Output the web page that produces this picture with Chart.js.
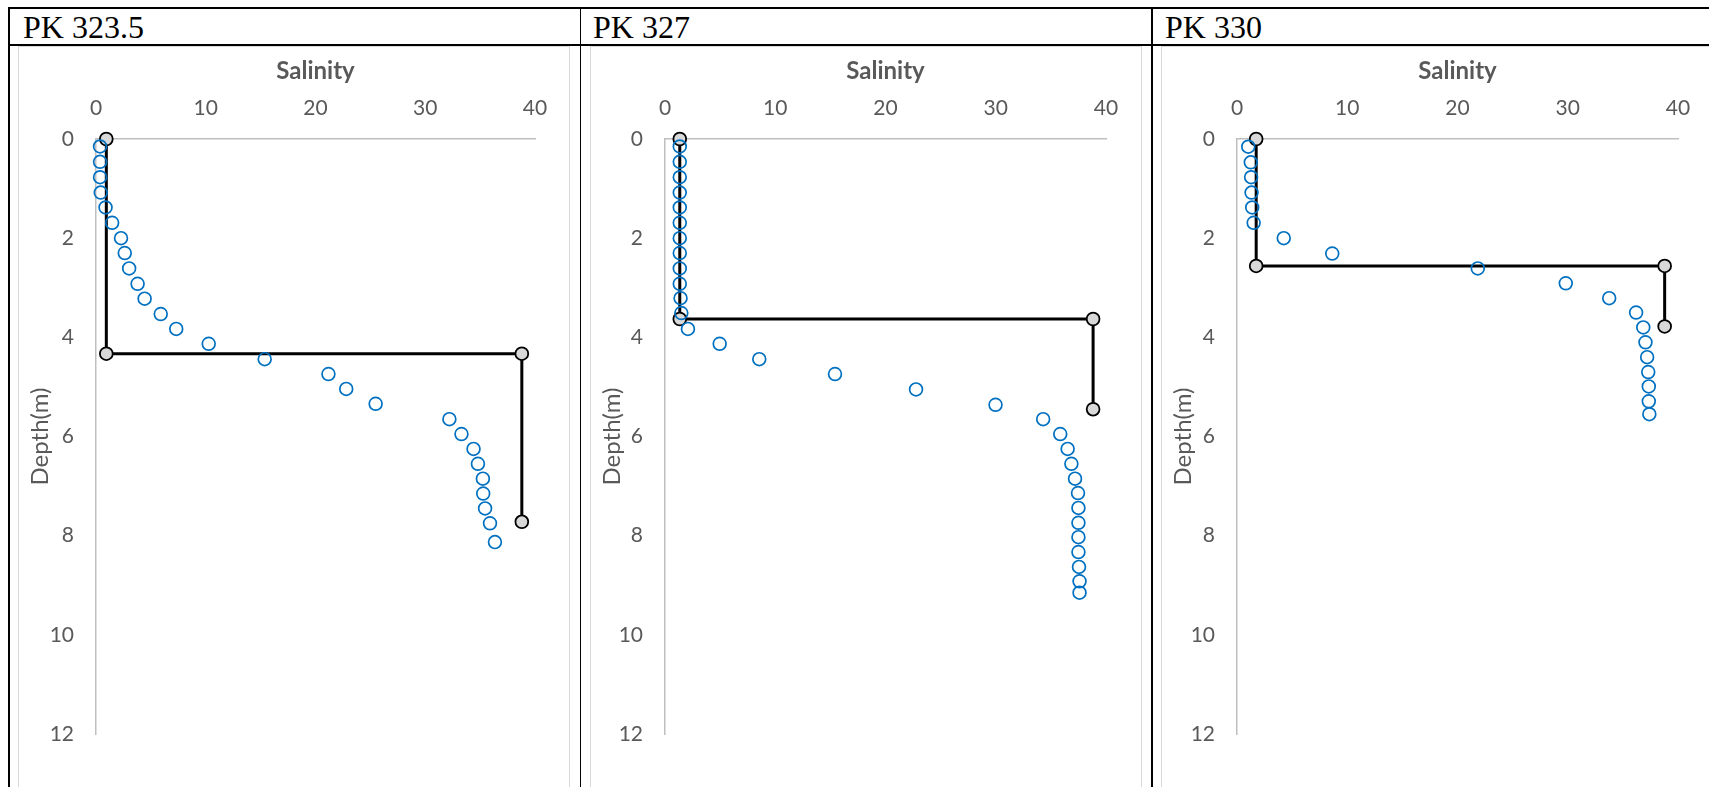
<!DOCTYPE html>
<html>
<head>
<meta charset="utf-8">
<script src="https://cdn.jsdelivr.net/npm/chart.js@4/dist/chart.umd.min.js"></script>
<style>
  html, body { margin: 0; padding: 0; background: #fff; width: 1709px; height: 787px; overflow: hidden; }
  .rule { position: absolute; background: #000; }
  .frame { position: absolute; border: 1px solid #D9D9D9; box-sizing: border-box; }
  .ttl { position: absolute; font-family: "Liberation Serif", serif; font-size: 32px; line-height: 32px; color: #000; white-space: nowrap; }
  canvas { position: absolute; }
</style>
</head>
<body>
<script>
// ---------- data ----------
const panelTitles = ['PK 323.5', 'PK 327', 'PK 330'];
const salinityTicks = [0, 10, 20, 30, 40];
const depthTicks = [0, 2, 4, 6, 8, 10, 12];

// PK 323.5 measured profile
const pk3235Depth = [0.15, 0.46, 0.77, 1.08, 1.38, 1.69, 2.0, 2.3, 2.61, 2.92, 3.22, 3.53, 3.83, 4.13, 4.44, 4.74, 5.04, 5.34, 5.65, 5.95, 6.25, 6.55, 6.85, 7.15, 7.45, 7.75, 8.13];
const pk3235Salinity = [0.37, 0.37, 0.37, 0.43, 0.87, 1.47, 2.28, 2.62, 3.02, 3.79, 4.43, 5.9, 7.31, 10.27, 15.37, 21.18, 22.8, 25.48, 32.2, 33.3, 34.4, 34.8, 35.25, 35.28, 35.45, 35.9, 36.35];
// PK 323.5 two-layer profile
const pk3235LayerDepth = [0, 4.33, 4.33, 7.72];
const pk3235LayerSalinity = [0.94, 0.94, 38.8, 38.8];

// PK 327 measured profile
const pk327Depth = [0.15, 0.46, 0.77, 1.08, 1.38, 1.69, 2.0, 2.3, 2.61, 2.92, 3.21, 3.51, 3.83, 4.13, 4.44, 4.74, 5.05, 5.36, 5.65, 5.95, 6.25, 6.55, 6.85, 7.14, 7.44, 7.74, 8.03, 8.33, 8.63, 8.92, 9.15];
const pk327Salinity = [1.34, 1.34, 1.34, 1.34, 1.34, 1.34, 1.34, 1.34, 1.34, 1.34, 1.41, 1.48, 2.08, 4.96, 8.55, 15.42, 22.77, 29.98, 34.3, 35.85, 36.52, 36.86, 37.19, 37.46, 37.5, 37.5, 37.5, 37.5, 37.55, 37.6, 37.6];
// PK 327 two-layer profile
const pk327LayerDepth = [0, 3.63, 3.63, 5.45];
const pk327LayerSalinity = [1.34, 1.34, 38.83, 38.83];

// PK 330 measured profile
const pk330Depth = [0.155, 0.47, 0.77, 1.08, 1.38, 1.69, 2.0, 2.31, 2.61, 2.91, 3.21, 3.5, 3.8, 4.1, 4.4, 4.7, 4.99, 5.29, 5.55];
const pk330Salinity = [1.02, 1.25, 1.28, 1.32, 1.38, 1.51, 4.24, 8.64, 21.84, 29.82, 33.76, 36.2, 36.85, 37.05, 37.2, 37.3, 37.35, 37.35, 37.4];
// PK 330 two-layer profile
const pk330LayerDepth = [0, 2.56, 2.56, 3.78];
const pk330LayerSalinity = [1.74, 1.74, 38.79, 38.79];

// ---------- layout (positions only) ----------
const layoutCfg = [
  { frameLeft: 18, axisW: 78, padR: 35, titleX: 23 },
  { frameLeft: 590, axisW: 75, padR: 36, titleX: 593 },
  { frameLeft: 1161, axisW: 76, padR: 35, titleX: 1165 }
];
const FRAME_TOP = 46, FRAME_W = 552, CANVAS_H = 741, XAXIS_H = 93, PAD_B = 53;

function addRule(x, y, w, h) {
  const d = document.createElement('div');
  d.className = 'rule';
  d.style.left = x + 'px'; d.style.top = y + 'px';
  d.style.width = w + 'px'; d.style.height = h + 'px';
  document.body.appendChild(d);
}
// table rules
addRule(8, 7, 1701, 2);      // top
addRule(8, 7, 2, 780);       // left
addRule(8, 44, 1701, 1.5);   // below titles
addRule(579.5, 7, 1.5, 780); // between 1 and 2
addRule(1151, 7, 1.5, 780);  // between 2 and 3

const panels = [
  { sal: pk3235Salinity, dep: pk3235Depth, lsal: pk3235LayerSalinity, ldep: pk3235LayerDepth },
  { sal: pk327Salinity, dep: pk327Depth, lsal: pk327LayerSalinity, ldep: pk327LayerDepth },
  { sal: pk330Salinity, dep: pk330Depth, lsal: pk330LayerSalinity, ldep: pk330LayerDepth }
];

const zip = (xs, ys) => xs.map((x, i) => ({ x: x, y: ys[i] }));
const AXIS_FONT = 'Lato';
const GREY_TXT = '#595959';

panels.forEach((p, i) => {
  const L = layoutCfg[i];
  const t = document.createElement('div');
  t.className = 'ttl';
  t.style.left = L.titleX + 'px';
  t.style.top = '11px';
  t.textContent = panelTitles[i];
  document.body.appendChild(t);

  const fr = document.createElement('div');
  fr.className = 'frame';
  fr.style.left = L.frameLeft + 'px';
  fr.style.top = FRAME_TOP + 'px';
  fr.style.width = FRAME_W + 'px';
  fr.style.height = '800px';
  document.body.appendChild(fr);

  const cv = document.createElement('canvas');
  cv.width = FRAME_W; cv.height = CANVAS_H;
  cv.style.left = L.frameLeft + 'px';
  cv.style.top = FRAME_TOP + 'px';
  cv.style.width = FRAME_W + 'px';
  cv.style.height = CANVAS_H + 'px';
  document.body.appendChild(cv);

  new Chart(cv, {
    type: 'scatter',
    data: {
      datasets: [
        {
          label: 'Measured',
          data: zip(p.sal, p.dep),
          showLine: false,
          pointStyle: 'circle',
          pointRadius: 6.4,
          pointBorderWidth: 1.7,
          pointBorderColor: '#0070C0',
          pointBackgroundColor: 'rgba(0,0,0,0)',
          clip: false
        },
        {
          label: 'Two-layer',
          data: zip(p.lsal, p.ldep),
          showLine: true,
          tension: 0,
          borderColor: '#000',
          borderWidth: 3,
          pointStyle: 'circle',
          pointRadius: 6.4,
          pointBorderWidth: 1.8,
          pointBorderColor: '#000',
          pointBackgroundColor: '#D9D9D9',
          clip: false
        }
      ]
    },
    options: {
      responsive: false,
      animation: false,
      devicePixelRatio: 1,
      events: [],
      layout: { padding: { left: 0, top: 0, right: L.padR, bottom: PAD_B } },
      plugins: { legend: { display: false }, tooltip: { enabled: false } },
      scales: {
        x: {
          type: 'linear',
          position: 'top',
          min: salinityTicks[0],
          max: salinityTicks[salinityTicks.length - 1],
          afterBuildTicks: s => { s.ticks = salinityTicks.map(v => ({ value: v })); },
          ticks: { padding: 18, color: GREY_TXT, font: { family: AXIS_FONT, size: 21 }, maxRotation: 0 },
          grid: { display: false, drawTicks: false, tickLength: 0 },
          border: { display: true, color: '#BFBFBF', width: 1.5 },
          title: { display: true, text: 'Salinity', color: GREY_TXT, font: { family: AXIS_FONT, size: 24, weight: 'bold' }, padding: { top: 11, bottom: 0 } },
          afterFit: s => { s.height = XAXIS_H; s.paddingLeft = 0; s.paddingRight = 0; }
        },
        y: {
          type: 'linear',
          position: 'left',
          reverse: true,
          min: depthTicks[0],
          max: depthTicks[depthTicks.length - 1],
          afterBuildTicks: s => { s.ticks = depthTicks.map(v => ({ value: v })); },
          ticks: { padding: 22, color: GREY_TXT, font: { family: AXIS_FONT, size: 21 } },
          grid: { display: false, drawTicks: false, tickLength: 0 },
          border: { display: true, color: '#BFBFBF', width: 1.5 },
          title: { display: true, text: 'Depth(m)', color: GREY_TXT, font: { family: AXIS_FONT, size: 24 }, padding: { top: 8, bottom: 0 } },
          afterFit: s => { s.width = L.axisW; s.paddingTop = 0; s.paddingBottom = 0; }
        }
      }
    }
  });
});
</script>
</body>
</html>
